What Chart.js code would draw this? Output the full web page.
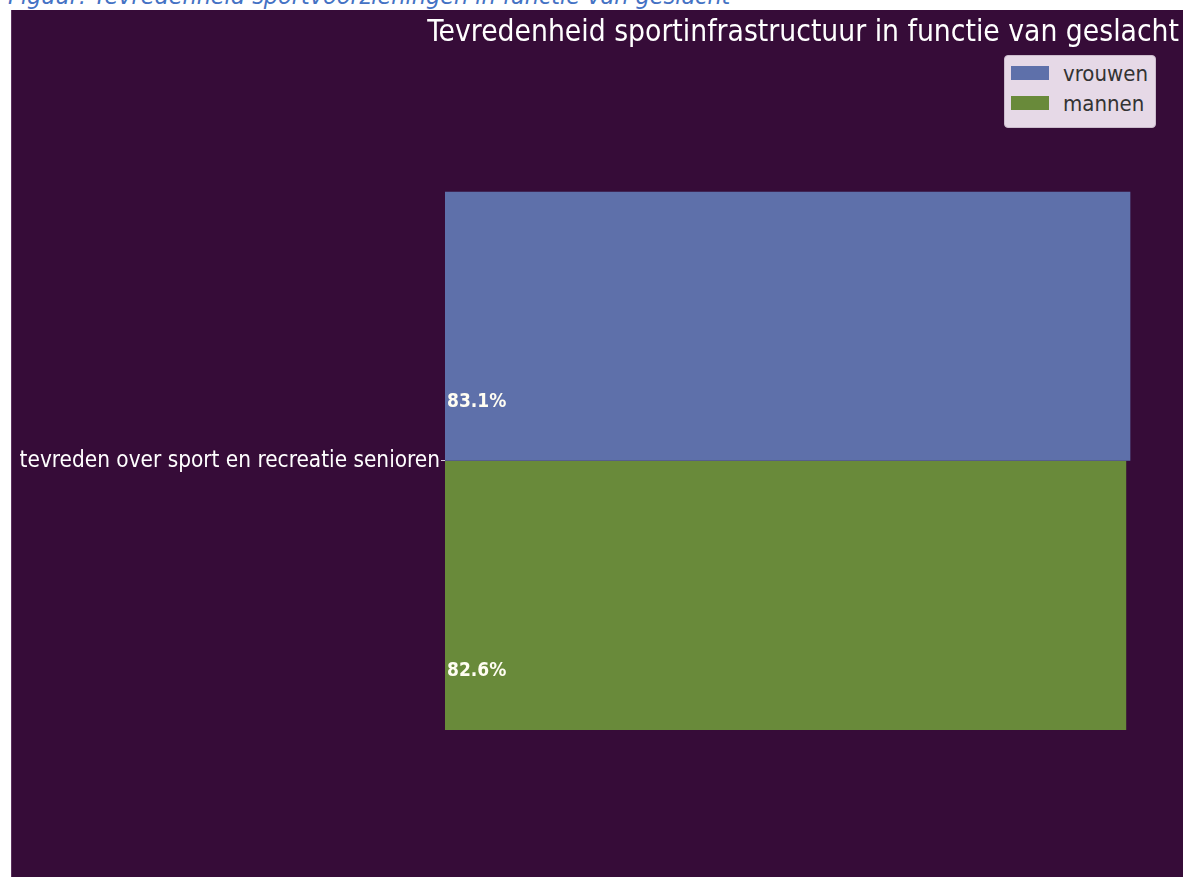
<!DOCTYPE html>
<html lang="nl">
<head>
<meta charset="utf-8">
<title>Tevredenheid sportinfrastructuur in functie van geslacht</title>
<script src="https://cdn.jsdelivr.net/npm/chart.js@4.4.1/dist/chart.umd.min.js"></script>
<style>
    html, body {
        margin: 0;
        padding: 0;
        background: #ffffff;
        width: 1183px;
        height: 877px;
        overflow: hidden;
        position: relative;
    }
    .caption {
        position: absolute;
        left: 8px;
        top: -16px;
        font-family: 'DejaVu Sans', sans-serif;
        font-style: italic;
        font-size: 22.4px;
        line-height: 24px;
        color: #4472c4;
        white-space: nowrap;
    }
    .panel {
        position: absolute;
        left: 11px;
        top: 10px;
        width: 1172px;
        height: 867px;
        background: #360c38;
        border-left: 1px solid #5a2f5c;
        box-sizing: border-box;
    }
    .legend-box {
        position: absolute;
        left: 992px;
        top: 45px;
        width: 152px;
        height: 73px;
        box-sizing: border-box;
        background: #e6d9e7;
        border: 1px solid #cbbccc;
        border-radius: 4px;
        padding: 2px 0 0 6px;
        font-family: 'DejaVu Sans Condensed', 'DejaVu Sans', sans-serif;
        font-size: 22px;
        color: #333333;
    }
    .legend-item {
        display: flex;
        align-items: center;
        height: 30px;
    }
    .legend-swatch {
        width: 38px;
        height: 14px;
        margin-right: 14px;
        flex: none;
    }
</style>
</head>
<body>
<div class="caption">Figuur: Tevredenheid sportvoorzieningen in functie van geslacht</div>
<div class="panel">
    <canvas id="chart" width="1172" height="867"></canvas>
    <div class="legend-box" id="legend"></div>
</div>
<script>
const chartTitle = 'Tevredenheid sportinfrastructuur in functie van geslacht';
const categories = ['tevreden over sport en recreatie senioren'];
const seriesNames = ['vrouwen', 'mannen'];
const vrouwenValues = [83.1];
const mannenValues = [82.6];

const FONT = "'DejaVu Sans Condensed', 'DejaVu Sans', sans-serif";

// percentage labels at the left inside each bar
const barLabels = {
    id: 'barLabels',
    afterDatasetsDraw(chart) {
        const ctx = chart.ctx;
        ctx.save();
        ctx.font = `bold 19px ${FONT}`;
        ctx.fillStyle = '#fffdf2';
        ctx.textAlign = 'left';
        ctx.textBaseline = 'middle';
        chart.data.datasets.forEach((ds, i) => {
            chart.getDatasetMeta(i).data.forEach((bar, j) => {
                const v = ds.data[j];
                ctx.fillText(v.toFixed(1) + '%', bar.base + 2, bar.y + bar.height * 0.28);
            });
        });
        ctx.restore();
    }
};

function renderLegend(chart) {
    const legend = document.getElementById('legend');
    legend.innerHTML = chart.data.datasets.map(ds => `
        <div class="legend-item">
            <span class="legend-swatch" style="background: ${ds.backgroundColor};"></span>
            <span>${ds.label}</span>
        </div>
    `).join('');
}

const chart = new Chart(document.getElementById('chart'), {
    type: 'bar',
    data: {
        labels: categories,
        datasets: [
            {
                label: seriesNames[0],
                data: vrouwenValues,
                backgroundColor: '#5e70aa'
            },
            {
                label: seriesNames[1],
                data: mannenValues,
                backgroundColor: '#698a3a'
            }
        ]
    },
    options: {
        indexAxis: 'y',
        responsive: false,
        animation: false,
        events: [],
        categoryPercentage: 0.688,
        barPercentage: 1,
        layout: {
            padding: { left: 0, right: 5, top: 0, bottom: 25 }
        },
        plugins: {
            legend: { display: false },
            tooltip: { enabled: false },
            title: {
                display: true,
                text: chartTitle,
                align: 'end',
                color: '#ffffff',
                font: { family: FONT, size: 29.7, weight: 'normal' },
                padding: { top: 5, bottom: 19 }
            }
        },
        scales: {
            x: {
                min: 0,
                max: 89,
                display: false
            },
            y: {
                afterFit(scale) { scale.width = 433; },
                border: { display: false },
                grid: {
                    offset: false,
                    drawOnChartArea: false,
                    drawTicks: true,
                    tickLength: 4,
                    color: '#d8d0d8'
                },
                ticks: {
                    color: '#ffffff',
                    padding: 1,
                    font: { family: FONT, size: 22.4 }
                }
            }
        }
    },
    plugins: [barLabels]
});

renderLegend(chart);
</script>
</body>
</html>
